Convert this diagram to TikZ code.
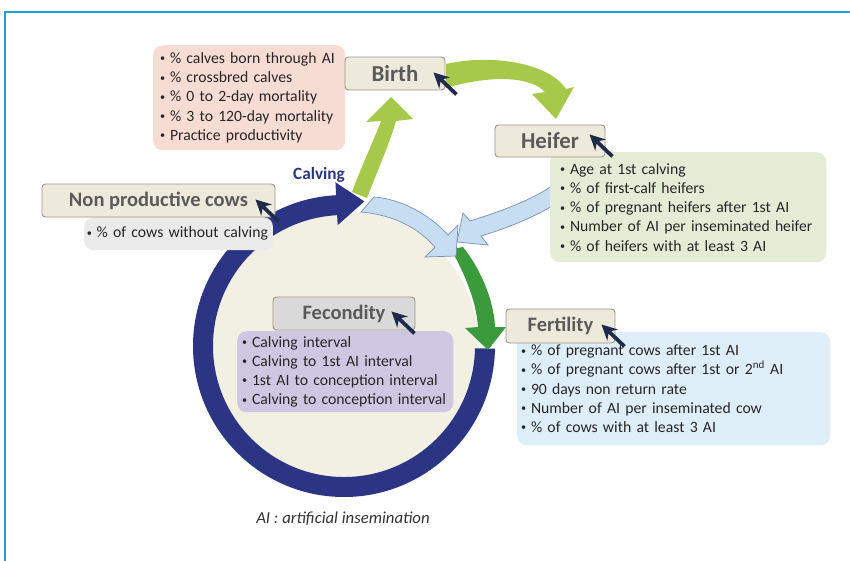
\documentclass[tikz,border=0pt]{standalone}
\usepackage{fontspec}
\setmainfont{Carlito}
\usetikzlibrary{arrows.meta,calc}

\definecolor{framecol}{HTML}{1DA1DC}
\definecolor{titlefill}{HTML}{EEEADB}
\definecolor{titleline}{HTML}{9C9686}
\definecolor{titletext}{HTML}{5A5A5A}
\definecolor{pinkfill}{HTML}{F7DCD3}
\definecolor{greenfill}{HTML}{E5ECD6}
\definecolor{grayfill}{HTML}{EAEAEA}
\definecolor{purplefill}{HTML}{CFC7E1}
\definecolor{bluefill}{HTML}{DEEEF9}
\definecolor{fecfill}{HTML}{D9D9D9}
\definecolor{ringcol}{HTML}{2B3583}
\definecolor{creamfill}{HTML}{F2EFE3}
\definecolor{lightgreen}{HTML}{A6C94C}
\definecolor{darkgreen}{HTML}{3B9A3B}
\definecolor{arrowblue}{HTML}{C7DDF2}
\definecolor{arrowline}{HTML}{7C8EAF}
\definecolor{cursorcol}{HTML}{1F2B4B}
\definecolor{listtext}{HTML}{262626}
\definecolor{foottext}{HTML}{333333}

\newcommand{\bul}{\raisebox{0.2ex}{\scalebox{0.65}{\textbullet}}\hspace{0.3em}}
\newcommand{\nohyph}{\hyphenpenalty=10000\relax\exhyphenpenalty=10000\relax}

\begin{document}
\begin{tikzpicture}[x=0.03cm,y=0.03cm]
\tikzstyle{every node}+=[inner sep=0pt]
\tikzstyle{titlebox}=[draw=titleline, line width=0.8pt, fill=titlefill, rounded corners=3pt, text=titletext, font=\bfseries\fontsize{17.5}{20}\selectfont]
\tikzstyle{listbox}=[rounded corners=8pt, anchor=north west, align=left, inner xsep=0.21cm, text=listtext, font=\fontsize{13.4}{16.4}\selectfont\nohyph]
\tikzstyle{pointer}=[draw=cursorcol, line width=3.2pt, -{Stealth[length=13pt,width=13pt]}]
\tikzstyle{bluearrow}=[fill=arrowblue, draw=arrowline, line width=0.6pt]
\useasboundingbox (0,0) rectangle (850,-560);
\clip (0,0) rectangle (850,-560);
% frame
\draw [framecol, line width=1.8pt] (5,-12) rectangle (860,-570);
% big calving cycle
\fill [creamfill] (344,-346) circle (135);
\begin{scope}[shift={(344,-346)}]
\fill [ringcol] (-1:151) arc[start angle=-1,end angle=-267,radius=151] -- (-267:164) -- (-278:146) -- (-267:121) -- (-267:131) arc[start angle=-267,end angle=-1,radius=131] -- cycle;
\end{scope}
% calving to birth, birth to heifer
\fill [lightgreen] (352,-192) .. controls (362,-165) and (374,-140) .. (381,-121) -- (366,-122) -- (391,-97) -- (413,-119) -- (396,-121) .. controls (389,-145) and (377,-172) .. (367,-198) -- cycle;
\fill [lightgreen] (446,-64) .. controls (490,-54) and (548,-62) .. (566,-89) -- (574,-87) -- (556,-119) -- (532,-94) -- (545,-92) .. controls (530,-76) and (490,-75) .. (446,-88) -- cycle;
% to fertility
\fill [darkgreen] (451,-249) .. controls (465,-275) and (476,-300) .. (478,-327) -- (465,-328) -- (488,-350) -- (506,-327) -- (495,-327) .. controls (494,-300) and (480,-268) .. (463,-247) -- cycle;
\filldraw [bluearrow] (576,-158) .. controls (567,-187) and (515,-207) .. (470,-221) -- (463,-213) -- (457,-242) -- (488,-245) -- (481,-236) .. controls (527,-222) and (587,-196) .. (594,-158) -- cycle;
\filldraw [bluearrow] (374,-197) .. controls (401,-199) and (429,-214) .. (448,-235) -- (458,-225) -- (456,-256) -- (425,-257) -- (435,-247) .. controls (419,-229) and (395,-215) .. (361,-212) -- cycle;
\draw (319,-175) node[text=ringcol, font=\bfseries\fontsize{14.7}{17}\selectfont] (calving) {Calving};
% indicator lists
\draw (153,-45) node[listbox, fill=pinkfill, text width=5.34cm, minimum height=3.15cm] (birthlist) {\bul\% calves born through AI\\ \bul\% crossbred calves\\ \bul\% 0 to 2-day mortality\\ \bul\% 3 to 120-day mortality\\ \bul Practice productivity};
\draw (550,-152) node[listbox, fill=greenfill, inner xsep=0.3cm, text width=7.68cm, minimum height=3.3cm] (heiferlist) {\bul Age at 1st calving\\ \bul\% of first-calf heifers\\ \bul\% of pregnant heifers after 1st AI\\ \bul Number of AI per inseminated heifer\\ \bul\% of heifers with at least 3 AI};
\draw (84,-217) node[listbox, fill=grayfill, inner xsep=0.08cm, text width=5.5cm, minimum height=0.99cm] (nonprodlist) {\bul\% of cows without calving};
\draw (237,-331) node[listbox, fill=purplefill, inner xsep=0.15cm, text width=6.18cm, minimum height=2.43cm] (fecondlist) {\bul Calving interval\\ \bul Calving to 1st AI interval\\ \bul 1st AI to conception interval\\ \bul Calving to conception interval};
\draw (517,-332) node[listbox, fill=bluefill, inner xsep=0.12cm, text width=9.15cm, minimum height=3.39cm] (fertillist) {\bul\% of pregnant cows after 1st AI\\ \bul\% of pregnant cows after 1st or 2\textsuperscript{nd} AI\\ \bul 90 days non return rate\\ \bul Number of AI per inseminated cow\\ \bul\% of cows with at least 3 AI};
% stage titles
\draw (395,-73.5) node[titlebox, font=\bfseries\fontsize{19.5}{22}\selectfont, minimum width=3cm, minimum height=0.99cm] (birth) {Birth};
\draw (550,-141) node[titlebox, font=\bfseries\fontsize{19.5}{22}\selectfont, minimum width=3.3cm, minimum height=0.96cm] (heifer) {Heifer};
\draw (158.5,-200.5) node[titlebox, minimum width=6.99cm, minimum height=0.99cm] (nonprod) {Non productive cows};
\draw (344,-313.5) node[titlebox, fill=fecfill, minimum width=4.26cm, minimum height=0.99cm] (fecond) {Fecondity};
\draw (560.5,-326) node[titlebox, minimum width=3.27cm, minimum height=1.02cm] (fertil) {Fertility};
% pointers
\foreach \n/\dx/\dy in {birth/11/-4, heifer/7/1, nonprod/3/-4, fecond/-1/-3, fertil/9/-3}
  \draw [pointer] ($(\n.south east)+(\dx,\dy)$) -- ++(-23,22);
\draw (343,-519) node[text=foottext, font=\itshape\fontsize{14.3}{17}\selectfont] (aidef) {AI : artificial insemination};
\end{tikzpicture}
\end{document}
